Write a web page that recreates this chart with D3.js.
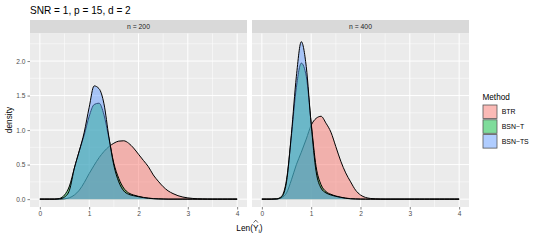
<!DOCTYPE html>
<html lang="en">
<head>
<meta charset="UTF-8">
<title>Len density</title>
<script src="https://d3js.org/d3.v7.min.js"></script>
<style>
  body { margin: 0; background: #fff; }
  text { font-family: "Liberation Sans", Arial, sans-serif; }
  .tick text { fill: #4d4d4d; font-size: 6.6px; }
  .tick line { stroke: #333; stroke-width: 0.6; }
</style>
</head>
<body>
<svg id="chart" width="540" height="240"></svg>
<script>
// x grid of the density estimates (Len of Y hat)
const lenGrid = d3.range(0, 41).map(i => +(i * 0.1).toFixed(1));

const panels = ['n = 200', 'n = 400'];
const methods = ['BTR', 'BSN\u2212T', 'BSN\u2212TS'];
const colors = ['#F8766D', '#00BA38', '#619CFF'];

// density values, one per grid point 0.0 ... 4.0
const btr200 = [0,0,0,0,0,0.005,0.02,0.06,0.13,0.24,0.37,0.49,0.60,0.69,0.76,0.81,0.84,0.845,0.81,0.74,0.65,0.56,0.47,0.35,0.26,0.18,0.12,0.08,0.05,0.03,0.018,0.01,0.005,0.003,0.001,0,0,0,0,0,0];
const bsnT200 = [0,0,0,0,0.01,0.06,0.19,0.45,0.70,0.93,1.20,1.37,1.39,1.22,0.88,0.52,0.30,0.16,0.09,0.06,0.04,0.025,0.015,0.008,0.004,0.002,0,0,0,0,0,0,0,0,0,0,0,0,0,0,0];
const bsnTS200 = [0,0,0,0,0.005,0.03,0.13,0.45,0.70,0.97,1.33,1.64,1.60,1.38,0.90,0.49,0.25,0.12,0.07,0.05,0.035,0.022,0.012,0.006,0.003,0.001,0,0,0,0,0,0,0,0,0,0,0,0,0,0,0];
const btr400 = [0,0,0,0.003,0.02,0.09,0.28,0.50,0.68,0.87,1.07,1.17,1.20,1.10,0.97,0.76,0.55,0.38,0.25,0.13,0.06,0.025,0.01,0.004,0.001,0,0,0,0,0,0,0,0,0,0,0,0,0,0,0,0];
const bsnT400 = [0,0,0,0.004,0.04,0.28,0.92,1.62,1.97,1.78,1.10,0.47,0.21,0.11,0.07,0.045,0.028,0.015,0.007,0.003,0.001,0,0,0,0,0,0,0,0,0,0,0,0,0,0,0,0,0,0,0,0];
const bsnTS400 = [0,0,0,0.002,0.03,0.25,0.95,1.78,2.28,1.92,1.08,0.40,0.16,0.09,0.06,0.04,0.025,0.012,0.005,0.002,0,0,0,0,0,0,0,0,0,0,0,0,0,0,0,0,0,0,0,0,0];

const panelSeries = [[btr200, bsnT200, bsnTS200], [btr400, bsnT400, bsnTS400]];

const xTicks = [0, 1, 2, 3, 4];
const yTicks = [0, 0.5, 1, 1.5, 2];

const svg = d3.select('#chart');

const panelLeft = [30, 252];
const panelW = 217;
const panelTop = 33.5, panelBottom = 207;

const y = d3.scaleLinear().domain([-0.114, 2.399]).range([panelBottom, panelTop]);

svg.append('text')
    .attr('x', 30).attr('y', 14)
    .attr('font-size', '10.1px')
    .attr('fill', '#000')
    .text('SNR = 1, p = 15, d = 2');

panels.forEach((name, p) => {
    const x = d3.scaleLinear().domain([-0.2, 4.2]).range([panelLeft[p], panelLeft[p] + panelW]);
    const g = svg.append('g');

    // strip
    g.append('rect')
        .attr('x', panelLeft[p]).attr('y', 20)
        .attr('width', panelW).attr('height', panelTop - 20)
        .attr('fill', '#d9d9d9');
    g.append('text')
        .attr('x', panelLeft[p] + panelW / 2).attr('y', 29.4)
        .attr('text-anchor', 'middle')
        .attr('font-size', '6.8px')
        .attr('fill', '#1a1a1a')
        .text(name);

    // panel background
    g.append('rect')
        .attr('x', panelLeft[p]).attr('y', panelTop)
        .attr('width', panelW).attr('height', panelBottom - panelTop)
        .attr('fill', '#ebebeb');

    // grid
    const minorX = [0.5, 1.5, 2.5, 3.5];
    const minorY = [0.25, 0.75, 1.25, 1.75, 2.25];
    g.selectAll('.mx').data(minorX).enter().append('line')
        .attr('x1', d => x(d)).attr('x2', d => x(d))
        .attr('y1', panelTop).attr('y2', panelBottom)
        .attr('stroke', '#fff').attr('stroke-width', 0.5);
    g.selectAll('.my').data(minorY).enter().append('line')
        .attr('x1', panelLeft[p]).attr('x2', panelLeft[p] + panelW)
        .attr('y1', d => y(d)).attr('y2', d => y(d))
        .attr('stroke', '#fff').attr('stroke-width', 0.5);
    g.selectAll('.gx').data(xTicks).enter().append('line')
        .attr('x1', d => x(d)).attr('x2', d => x(d))
        .attr('y1', panelTop).attr('y2', panelBottom)
        .attr('stroke', '#fff').attr('stroke-width', 1);
    g.selectAll('.gy').data(yTicks).enter().append('line')
        .attr('x1', panelLeft[p]).attr('x2', panelLeft[p] + panelW)
        .attr('y1', d => y(d)).attr('y2', d => y(d))
        .attr('stroke', '#fff').attr('stroke-width', 1);

    // densities
    const area = d3.area()
        .x((d, i) => x(lenGrid[i]))
        .y0(y(0))
        .y1(d => y(d))
        .curve(d3.curveMonotoneX);
    const line = d3.line()
        .x((d, i) => x(lenGrid[i]))
        .y(d => y(d))
        .curve(d3.curveMonotoneX);

    panelSeries[p].forEach((vals, m) => {
        g.append('path')
            .attr('d', area(vals))
            .attr('fill', colors[m])
            .attr('fill-opacity', 0.5);
        g.append('path')
            .attr('d', line(vals))
            .attr('fill', 'none')
            .attr('stroke', '#000')
            .attr('stroke-width', 1);
    });

    // x axis
    const ax = g.append('g')
        .attr('transform', `translate(0,${panelBottom})`)
        .call(d3.axisBottom(x).tickValues(xTicks).tickFormat(d3.format('d')).tickSize(2.5).tickPadding(2));
    ax.select('.domain').remove();

    if (p === 0) {
        const ay = g.append('g')
            .attr('transform', `translate(${panelLeft[0]},0)`)
            .call(d3.axisLeft(y).tickValues(yTicks).tickFormat(d3.format('.1f')).tickSize(2.5).tickPadding(2));
        ay.select('.domain').remove();
    }
});

// axis titles
svg.append('text')
    .attr('transform', 'translate(12,120) rotate(-90)')
    .attr('text-anchor', 'middle')
    .attr('font-size', '8.3px')
    .text('density');

const xl = svg.append('text')
    .attr('x', (panelLeft[0] + panelLeft[1] + panelW) / 2).attr('y', 231)
    .attr('text-anchor', 'middle')
    .attr('font-size', '8.3px');
xl.append('tspan').text('Len(');
xl.append('tspan').text('Y');
xl.append('tspan').attr('font-size', '6px').attr('dy', 1.8).text('i');
xl.append('tspan').attr('dy', -1.8).text(')');
// hat drawn as a small chevron over the Y
const xlNode = xl.node();
const hatX = (xlNode.getStartPositionOfChar(4).x + xlNode.getEndPositionOfChar(4).x) / 2;
svg.append('path')
    .attr('d', d3.line()([[hatX - 2.2, 222.6], [hatX, 220.2], [hatX + 2.2, 222.6]]))
    .attr('fill', 'none')
    .attr('stroke', '#000')
    .attr('stroke-width', 0.6);

// legend
svg.append('text')
    .attr('x', 482.5).attr('y', 100)
    .attr('font-size', '8.2px')
    .text('Method');

const legend = svg.selectAll('.legend')
    .data(methods)
    .enter()
    .append('g')
    .attr('class', 'legend')
    .attr('transform', (d, i) => `translate(483,${105 + i * 14.8})`);

legend.append('rect')
    .attr('width', 14).attr('height', 13.5)
    .attr('fill', (d, i) => colors[i])
    .attr('fill-opacity', 0.5)
    .attr('stroke', '#555')
    .attr('stroke-width', 0.8);

legend.append('text')
    .attr('x', 18.7).attr('y', 9.4)
    .attr('font-size', '6.9px')
    .attr('fill', '#000')
    .text(d => d);
</script>
</body>
</html>
